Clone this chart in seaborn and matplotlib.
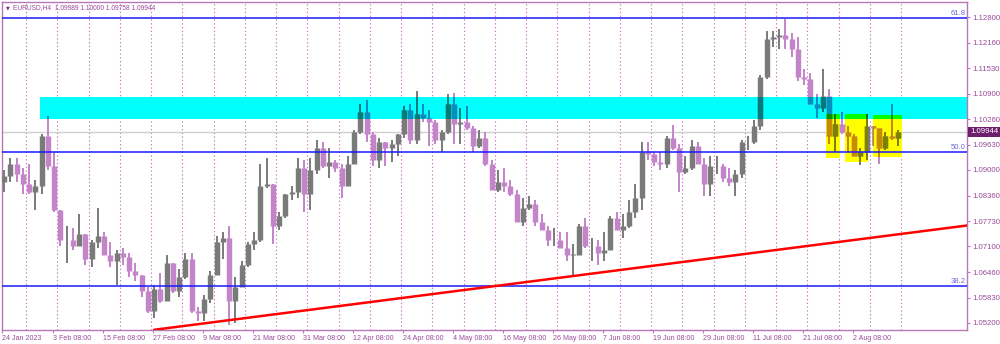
import numpy as np
import pandas as pd
import matplotlib
matplotlib.use("Agg")
import matplotlib.pyplot as plt
import matplotlib.transforms as mtransforms
from matplotlib.collections import LineCollection
from matplotlib.patches import Rectangle
import seaborn as sns

# ---------------- data (daily summary of EURUSD H4) -------------
first_open = 1.0870
highs = [1.0900, 1.0930, 1.0930, 1.0905, 1.0915, 1.0875, 1.0990, 1.1033, 1.0945, 1.0800,
         1.0760, 1.0755, 1.0790, 1.0740, 1.0725, 1.0805, 1.0745, 1.0720, 1.0700, 1.0705,
         1.0695, 1.0670, 1.0640, 1.0610, 1.0615, 1.0645, 1.0690, 1.0670, 1.0655, 1.0695,
         1.0695, 1.0560, 1.0590, 1.0650, 1.0735, 1.0745, 1.0760, 1.0635, 1.0675, 1.0720,
         1.0745, 1.0915, 1.0930, 1.0865, 1.0795, 1.0840, 1.0860, 1.0930, 1.0925, 1.0930,
         1.0975, 1.0970, 1.0955, 1.0925, 1.0915, 1.0935, 1.1000, 1.1065, 1.1075, 1.0995,
         1.0980, 1.0970, 1.0975, 1.0990, 1.1060, 1.1065, 1.1095, 1.1065, 1.1050, 1.1025,
         1.1000, 1.1090, 1.1092, 1.1055, 1.1060, 1.1010, 1.1000, 1.0995, 1.0925, 1.0900,
         1.0905, 1.0875, 1.0850, 1.0830, 1.0835, 1.0825, 1.0790, 1.0760, 1.0755, 1.0745,
         1.0745, 1.0715, 1.0765, 1.0780, 1.0730, 1.0725, 1.0745, 1.0785, 1.0795, 1.0790,
         1.0825, 1.0865, 1.0970, 1.0970, 1.0945, 1.0945, 1.0985, 1.1012, 1.0965, 1.0935,
         1.0975, 1.0970, 1.0930, 1.0935, 1.0935, 1.0915, 1.0905, 1.0900, 1.0975, 1.0985,
         1.1025, 1.1135, 1.1245, 1.1245, 1.1250, 1.1276, 1.1240, 1.1230, 1.1150, 1.1140,
         1.1090, 1.1150, 1.1100, 1.1040, 1.1045, 1.1010, 1.0990, 1.0955, 1.1040, 1.1010,
         1.1000, 1.0995, 1.1065, 1.1000]
lows = [1.0845, 1.0870, 1.0870, 1.0840, 1.0840, 1.0800, 1.0840, 1.0900, 1.0795, 1.0710,
        1.0670, 1.0700, 1.0715, 1.0665, 1.0660, 1.0705, 1.0690, 1.0660, 1.0615, 1.0665,
        1.0635, 1.0625, 1.0585, 1.0545, 1.0533, 1.0570, 1.0575, 1.0595, 1.0585, 1.0630,
        1.0545, 1.0525, 1.0525, 1.0570, 1.0640, 1.0680, 1.0516, 1.0520, 1.0610, 1.0660,
        1.0700, 1.0720, 1.0855, 1.0715, 1.0750, 1.0780, 1.0825, 1.0830, 1.0795, 1.0800,
        1.0890, 1.0905, 1.0880, 1.0895, 1.0830, 1.0860, 1.0915, 1.0990, 1.0970, 1.0910,
        1.0905, 1.0910, 1.0920, 1.0935, 1.0980, 1.0965, 1.0965, 1.1020, 1.0960, 1.0965,
        1.0945, 1.0990, 1.0965, 1.0965, 1.1000, 1.0945, 1.0955, 1.0910, 1.0850, 1.0845,
        1.0845, 1.0835, 1.0770, 1.0760, 1.0800, 1.0760, 1.0750, 1.0710, 1.0710, 1.0705,
        1.0675, 1.0635, 1.0690, 1.0705, 1.0675, 1.0665, 1.0675, 1.0700, 1.0750, 1.0730,
        1.0755, 1.0780, 1.0800, 1.0925, 1.0910, 1.0900, 1.0905, 1.0950, 1.0845, 1.0890,
        1.0900, 1.0915, 1.0835, 1.0835, 1.0890, 1.0870, 1.0860, 1.0835, 1.0880, 1.0950,
        1.0965, 1.1000, 1.1125, 1.1205, 1.1200, 1.1200, 1.1180, 1.1120, 1.1110, 1.1065,
        1.1030, 1.1045, 1.0965, 1.0945, 1.0990, 1.0945, 1.0935, 1.0912, 1.0925, 1.0960,
        1.0915, 1.0950, 1.0975, 1.0960]
closes = [1.0885, 1.0915, 1.0890, 1.0865, 1.0845, 1.0860, 1.0985, 1.0910, 1.0800, 1.0725,
          1.0725, 1.0712, 1.0740, 1.0680, 1.0720, 1.0735, 1.0690, 1.0675, 1.0695, 1.0685,
          1.0650, 1.0640, 1.0600, 1.0550, 1.0605, 1.0575, 1.0670, 1.0600, 1.0635, 1.0680,
          1.0550, 1.0545, 1.0580, 1.0640, 1.0720, 1.0730, 1.0575, 1.0610, 1.0665, 1.0715,
          1.0725, 1.0860, 1.0865, 1.0760, 1.0785, 1.0840, 1.0845, 1.0905, 1.0840, 1.0900,
          1.0955, 1.0910, 1.0920, 1.0905, 1.0860, 1.0915, 1.0995, 1.1045, 1.0990, 1.0925,
          1.0970, 1.0955, 1.0965, 1.0990, 1.1050, 1.0975, 1.1040, 1.1030, 1.1020, 1.0975,
          1.0995, 1.1065, 1.1015, 1.1020, 1.1005, 1.0960, 1.0980, 1.0915, 1.0850, 1.0870,
          1.0860, 1.0840, 1.0770, 1.0805, 1.0815, 1.0770, 1.0750, 1.0725, 1.0725, 1.0705,
          1.0690, 1.0690, 1.0760, 1.0710, 1.0710, 1.0695, 1.0700, 1.0780, 1.0750, 1.0760,
          1.0795, 1.0830, 1.0945, 1.0940, 1.0920, 1.0915, 1.0980, 1.0955, 1.0895, 1.0905,
          1.0960, 1.0915, 1.0865, 1.0910, 1.0910, 1.0880, 1.0870, 1.0890, 1.0970, 1.0970,
          1.1010, 1.1130, 1.1225, 1.1230, 1.1235, 1.1225, 1.1200, 1.1130, 1.1125, 1.1065,
          1.1055, 1.1085, 1.0985, 1.1015, 1.0995, 1.0985, 1.0935, 1.0945, 1.1010, 1.1005,
          1.0955, 1.0985, 1.0980, 1.0994]

price_ticks = [1.12800, 1.12160, 1.11530, 1.10900, 1.10260, 1.09630, 1.09000,
               1.08360, 1.07730, 1.07100, 1.06460, 1.05830, 1.05200]
date_labels = ["24 Jan 2023", "3 Feb 08:00", "15 Feb 08:00", "27 Feb 08:00", "9 Mar 08:00",
               "21 Mar 08:00", "31 Mar 08:00", "12 Apr 08:00", "24 Apr 08:00", "4 May 08:00",
               "16 May 08:00", "26 May 08:00", "7 Jun 08:00", "19 Jun 08:00", "29 Jun 08:00",
               "11 Jul 08:00", "21 Jul 08:00", "2 Aug 08:00"]
date_index = [0.2, 8.33, 16.33, 24.33, 32.33, 40.33, 48.33, 56.33, 64.33, 72.33,
              80.33, 88.33, 96.33, 104.33, 112.33, 120.33, 128.33, 136.33]
week_starts = list(range(4, 145, 5))

fib_levels = [1.1278, 1.0945, 1.0612]
fib_names = ["61.8", "50.0", "38.2"]
cyan_zone = [6.24, 160.0, 1.1027, 1.1081]          # x0, x1, low, high
yellow_x0 = [132.0, 135.0, 139.5]
yellow_x1 = [134.2, 138.7, 144.2]
yellow_lo = [1.0930, 1.0920, 1.0932]
yellow_hi = [1.1039, 1.1039, 1.1037]
trend_day = [24.5, 155.0]
trend_price = [1.0503, 1.0763]
last_price = 1.09944
header = "EURUSD,H4  1.09989 1.10000 1.09758 1.09944"

# ---------------- style -------------
sns.set_style("white")
plt.rcParams["font.family"] = ["Liberation Sans Narrow", "Liberation Sans", "DejaVu Sans"]
TXT = "#9a4a9a"
FRAME = "#b878b8"
FS = 5.6

fig = plt.figure(figsize=(10, 3.44), dpi=100)
ax = fig.add_axes([0.002, 14 / 344, 0.965, 328 / 344])
ax.set_xlim(0.16, 154.56)
ax.set_ylim(1.05025, 1.13173)

n = len(closes)
opens = [first_open] + closes[:-1]
xs = np.arange(n) + 0.5
up = np.array(closes) >= np.array(opens)


def draw_candles(up_col, dn_col, clip=None, z=3):
    cols = [up_col if u else dn_col for u in up]
    wsegs = [[(x, l), (x, h)] for x, l, h in zip(xs, lows, highs)]
    bsegs = []
    for x, o, c in zip(xs, opens, closes):
        lo, hi = min(o, c), max(o, c)
        if hi - lo < 0.00004:
            hi = lo + 0.00004
        bsegs.append([(x, lo), (x, hi)])
    w = LineCollection(wsegs, colors=cols, linewidths=1.4, zorder=z)
    b = LineCollection(bsegs, colors=cols, linewidths=3.9, zorder=z, capstyle="butt")
    for coll in (w, b):
        ax.add_collection(coll)
        if clip is not None:
            coll.set_clip_path(clip)


# zones (background)
cx0, cx1, clo, chi = cyan_zone
ax.add_patch(Rectangle((cx0, clo), cx1 - cx0, chi - clo, fc="#00ffff", ec="none", zorder=1))
for x0, x1, lo, hi in zip(yellow_x0, yellow_x1, yellow_lo, yellow_hi):
    ax.add_patch(Rectangle((x0, lo), x1 - x0, hi - lo, fc="#ffff00", ec="none", zorder=1))
    ilo, ihi = max(lo, clo), min(hi, chi)
    if ihi > ilo:
        ax.add_patch(Rectangle((x0, ilo), x1 - x0, ihi - ilo, fc="#00ff00", ec="none", zorder=1.1))

# separators
for d in week_starts:
    ax.axvline(d, color="#c878c8", lw=0.8, ls=(0, (1.2, 2.2)), zorder=0.5)

# candles
draw_candles("#7a7a7a", "#c384c9")
# colour-mixed candles inside zones (AND-like blend as in terminal)
clipc = Rectangle((cx0, clo), cx1 - cx0, chi - clo, transform=ax.transData)
draw_candles("#007a7a", "#0090c0", clip=clipc, z=3.1)
for x0, x1, lo, hi in zip(yellow_x0, yellow_x1, yellow_lo, yellow_hi):
    cy = Rectangle((x0, lo), x1 - x0, hi - lo, transform=ax.transData)
    draw_candles("#808000", "#c88a00", clip=cy, z=3.2)
    ilo, ihi = max(lo, clo), min(hi, chi)
    if ihi > ilo:
        cg = Rectangle((x0, ilo), x1 - x0, ihi - ilo, transform=ax.transData)
        draw_candles("#007a00", "#009000", clip=cg, z=3.3)

# current price line
ax.axhline(last_price, color="#cfcfcf", lw=1.0, zorder=0.8)

# fibo levels
for lvl, name in zip(fib_levels, fib_names):
    ax.axhline(lvl, color="#1a1aff", lw=1.1, zorder=4)
    ax.text(154.3, lvl + 0.0002, name, ha="right", va="bottom", fontsize=FS,
            color="#6a6ad8", zorder=5)

# trend line
trend_df = pd.DataFrame({"day": trend_day, "price": trend_price})
sns.lineplot(data=trend_df, x="day", y="price", color="#ff0000", lw=1.8, ax=ax, zorder=4.5)

# axes styling
for s in ax.spines.values():
    s.set_color(FRAME)
    s.set_linewidth(1.0)
ax.yaxis.tick_right()
ax.set_yticks(price_ticks)
ax.set_yticklabels([f"{p:.5f}" for p in price_ticks])
ax.set_xticks(date_index)
ax.set_xticklabels(date_labels)
for lab in ax.get_xticklabels():
    lab.set_horizontalalignment("left")
ax.tick_params(axis="both", direction="out", length=2.5, width=0.8, color=FRAME,
               labelcolor=TXT, labelsize=FS)
ax.tick_params(axis="y", pad=1.5, right=True, left=False)
ax.tick_params(axis="x", pad=1, bottom=True, labelsize=5.1)
ax.set_xlabel("")
ax.set_ylabel("")
ax.grid(False)

# last price tag
tr = mtransforms.blended_transform_factory(ax.transAxes, ax.transData)
ax.text(1.003, last_price, "1.09944", transform=tr, ha="left", va="center", fontsize=FS,
        color="white", bbox=dict(boxstyle="square,pad=0.2", fc="#6e1e6e", ec="none"),
        clip_on=False, zorder=6)

# header
ax.text(0.004, 0.990, "\u25BC", transform=ax.transAxes, ha="left", va="top", fontsize=3.5,
        color="#7a2a7a", family="DejaVu Sans")
ax.text(0.011, 0.995, header, transform=ax.transAxes, ha="left", va="top", fontsize=4.8,
        color=TXT)

fig.savefig("out.png", dpi=100, facecolor="white")
